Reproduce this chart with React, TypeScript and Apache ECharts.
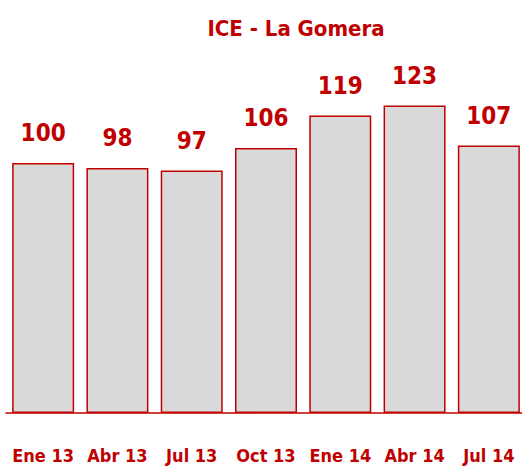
import React, { useEffect, useRef } from "react";
import * as echarts from "echarts";

const categories = ["Ene 13", "Abr 13", "Jul 13", "Oct 13", "Ene 14", "Abr 14", "Jul 14"];
const values = [100, 98, 97, 106, 119, 123, 107];
const titleText = "ICE - La Gomera";

const RED = "#c00000";
const FONT = "'Liberation Sans Narrow', 'DejaVu Sans Condensed', 'Arial Narrow', sans-serif";

export default function App() {
  const ref = useRef<HTMLDivElement>(null);
  useEffect(() => {
    const chart = echarts.init(ref.current!, null, { renderer: "svg" });
    chart.setOption({
      animation: false,
      title: {
        text: titleText,
        left: 291,
        top: 12,
        textAlign: "center",
        textStyle: { color: RED, fontFamily: FONT, fontWeight: "bold", fontSize: 22 },
      },
      grid: { left: 6, width: 520, top: 63, height: 350, containLabel: false, outerBoundsMode: "none" },
      xAxis: {
        type: "category",
        data: categories,
        axisLine: { show: true, lineStyle: { color: RED, width: 1.5 } },
        axisTick: { show: false },
        axisLabel: {
          interval: 0,
          color: RED,
          fontFamily: FONT,
          fontWeight: "bold",
          fontSize: 18,
          margin: 33,
        },
      },
      yAxis: {
        type: "value",
        min: 0,
        max: 140,
        show: false,
        splitLine: { show: false },
      },
      series: [
        {
          type: "bar",
          data: values,
          barWidth: 62,
          itemStyle: { color: "#d9d9d9", borderColor: RED, borderWidth: 1.5 },
          label: {
            show: true,
            position: "top",
            distance: 18,
            color: RED,
            fontFamily: FONT,
            fontWeight: "bold",
            fontSize: 24,
          },
        },
      ],
    });
    return () => chart.dispose();
  }, []);
  return <div ref={ref} style={{ width: 522, height: 469, position: "absolute", left: 0, top: 0 }} />;
}
